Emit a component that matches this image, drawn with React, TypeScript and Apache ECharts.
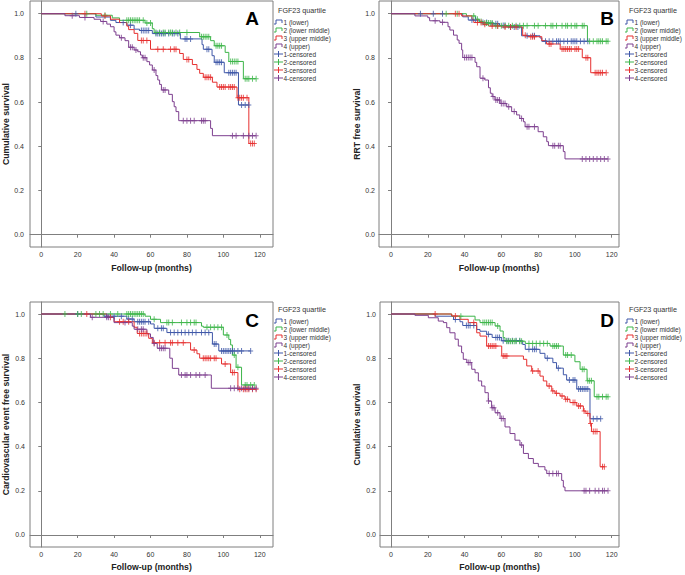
import React, { useEffect, useRef } from 'react';
import * as echarts from 'echarts';

type Step = [number, number];

// ---------- tick labels & texts ----------
const xTicks = [0, 20, 40, 60, 80, 100, 120];
const yTicks = [0, 0.2, 0.4, 0.6, 0.8, 1.0];
const groupNames = ['1 (lower)', '2 (lower middle)', '3 (upper middle)', '4 (upper)'];
const censoredNames = ['1-censored', '2-censored', '3-censored', '4-censored'];
const panelLetters = ['A', 'B', 'C', 'D'];
const yTitles = ['Cumulative survival', 'RRT free survival', 'Cardiovascular event free survival', 'Cumulative survival'];
const xTitle = 'Follow-up (months)';
const legendTitle = 'FGF23 quartile';

// ---------- Panel A : [month, survival after event] ----------
const A1_steps: Step[] = [[30, 0.985], [38, 0.97], [41, 0.96], [47, 0.948], [51, 0.93], [54, 0.924], [61, 0.91], [76.4, 0.886], [88.3, 0.86], [89, 0.839], [93.8, 0.81], [95, 0.78], [100.5, 0.733], [108.3, 0.587]];
const A1_cens = [19, 45, 49, 55, 56, 57, 58, 59, 63, 64, 65, 66, 67, 68, 70, 72, 73, 75, 79, 80, 82, 91, 92, 96, 97, 98, 99, 103, 104, 105, 106, 107, 110, 112, 114];
const A2_steps: Step[] = [[30, 0.993], [39, 0.981], [43, 0.97], [57, 0.958], [61, 0.932], [62, 0.915], [87, 0.896], [93, 0.878], [95, 0.855], [101, 0.825], [103, 0.784], [111, 0.706]];
const A2_cens = [25, 35, 47, 48, 49, 50, 51, 52, 53, 54, 56, 58, 60, 63, 65, 67, 68, 70, 71, 72, 74, 76, 80, 88, 89, 90, 91, 92, 96, 97, 98, 99, 104, 105, 106, 107, 108, 112, 113, 114, 116, 118];
const A3_steps: Step[] = [[33, 0.99], [38, 0.975], [43, 0.96], [47, 0.944], [48, 0.928], [51, 0.911], [53, 0.879], [60, 0.839], [76, 0.82], [78, 0.793], [83, 0.77], [85.5, 0.748], [87, 0.73], [89, 0.712], [94, 0.69], [96.5, 0.668], [107.5, 0.62], [114, 0.413]];
const A3_cens = [24, 35, 55, 56, 58, 64, 67, 71, 73, 74, 80, 81, 90, 91, 92, 93, 98, 99, 100, 101, 103, 104, 105, 106, 108, 109, 110, 111, 113, 115, 116, 117];
const A4_steps: Step[] = [[13, 0.991], [21, 0.983], [29, 0.975], [32.6, 0.965], [36, 0.953], [38, 0.941], [40, 0.918], [41, 0.903], [43, 0.891], [46, 0.878], [48, 0.848], [51, 0.836], [53, 0.828], [54.5, 0.813], [55.5, 0.801], [58, 0.783], [59.5, 0.768], [61, 0.745], [63, 0.72], [64, 0.7], [65, 0.68], [66, 0.655], [70, 0.635], [72, 0.602], [73, 0.579], [74, 0.557], [75.5, 0.516], [93, 0.481], [94, 0.448]];
const A4_cens = [17, 24, 34, 44, 49, 50, 52, 56, 57, 62, 67, 68, 78, 80, 82, 84, 88, 89, 90, 105, 107, 111, 114, 116, 118];

// ---------- Panel B ----------
const B1_steps: Step[] = [[39, 0.986], [42, 0.971], [48, 0.96], [53, 0.955], [59, 0.947], [63, 0.94], [71, 0.9], [81, 0.89], [82, 0.875]];
const B1_cens = [16, 23, 28, 44, 46, 50, 52, 55, 57, 58, 61, 62, 65, 67, 69, 74, 77, 78, 84, 86, 88, 90, 91, 92, 94, 96, 98, 99, 100, 101, 103, 105, 107];
const B2_steps: Step[] = [[41, 0.99], [46, 0.975], [48, 0.965], [50, 0.958], [56, 0.946], [106.8, 0.875]];
const B2_cens = [30, 36, 45, 47, 49, 51, 52, 53, 54, 55, 57, 58, 60, 62, 64, 66, 68, 70, 72, 74, 78, 80, 84, 87, 88, 90, 93, 95, 96, 98, 100, 101, 104, 105, 108, 110, 112, 113, 114, 115, 117, 118];
const B3_steps: Step[] = [[38.4, 0.99], [44, 0.975], [45, 0.96], [50, 0.952], [53, 0.944], [60, 0.94], [71.6, 0.902], [74, 0.896], [82, 0.878], [84.6, 0.863], [92, 0.84], [104, 0.801], [108.6, 0.733]];
const B3_cens = [35, 37, 47, 49, 51, 55, 58, 62, 65, 68, 73, 76, 77, 78, 86, 87, 93, 94, 95, 96, 97, 98, 100, 101, 102, 106, 107, 111, 112, 113, 114, 115, 117];
const B4_steps: Step[] = [[13, 0.99], [20, 0.982], [21, 0.968], [26.6, 0.961], [31, 0.941], [32, 0.926], [34, 0.903], [36, 0.881], [37, 0.866], [38.4, 0.836], [39, 0.802], [45.7, 0.78], [46.6, 0.76], [48.4, 0.708], [51, 0.7], [53, 0.665], [54, 0.64], [55, 0.625], [56.5, 0.61], [59.3, 0.594], [62.9, 0.579], [65.6, 0.557], [68.3, 0.542], [70, 0.526], [72, 0.511], [72.9, 0.489], [80, 0.466], [82.8, 0.443], [84.7, 0.421], [85.6, 0.403], [93.7, 0.376], [94.6, 0.343]];
const B4_cens = [24, 28, 40, 41, 42, 43, 44, 50, 55.5, 57, 58, 59, 60, 61, 62, 64, 67, 71, 74, 75, 78, 88, 89, 91, 92, 104, 106, 108, 110, 112, 114, 116, 118];

// ---------- Panel C ----------
const C1_steps: Step[] = [[34.5, 0.99], [47, 0.977], [51, 0.965], [60, 0.955], [62, 0.935], [69, 0.916], [94, 0.864], [97.5, 0.833]];
const C1_cens = [20, 36, 40, 44, 48, 50, 53, 54, 55, 56, 57, 59, 64, 66, 67, 71, 73, 75, 77, 79, 81, 83, 85, 88, 90, 92, 95, 96, 99, 100, 101, 102, 103, 104, 105, 106, 108, 110, 115];
const C2_steps: Step[] = [[57, 0.99], [60, 0.976], [65.5, 0.961], [88, 0.945], [89, 0.94], [100, 0.905], [103, 0.885], [104, 0.86], [105, 0.814], [107, 0.759], [110, 0.679]];
const C2_cens = [13, 20, 22, 30, 32, 34, 38, 42, 47, 48, 49, 50, 51, 52, 53, 54, 55, 56, 62, 69, 70, 72, 77, 80, 82, 84, 85, 91, 93, 95, 97, 99, 102, 106, 108, 112, 113, 115, 117];
const C3_steps: Step[] = [[36, 0.985], [40, 0.965], [51, 0.94], [52.7, 0.912], [59, 0.89], [61, 0.87], [82, 0.837], [85.5, 0.82], [87, 0.8], [99, 0.774], [104, 0.735], [108, 0.659]];
const C3_cens = [25, 38, 43, 45, 48, 54, 55, 56, 57, 58, 62, 65, 68, 71, 72, 75, 78, 84, 89, 90, 91, 92, 93, 95, 96, 101, 105, 106, 109, 111, 112, 113, 114, 116, 118];
const C4_steps: Step[] = [[27, 0.985], [40, 0.961], [50, 0.945], [51, 0.931], [58, 0.91], [60, 0.894], [61.5, 0.867], [63.7, 0.845], [70.6, 0.8], [72, 0.754], [75.5, 0.724], [93.4, 0.664]];
const C4_cens = [28, 36, 37, 46, 53, 55, 56, 62, 65, 66, 67, 68, 77, 79, 80, 82, 85, 87, 90, 104, 106, 108, 110, 112, 114, 116, 118];

// ---------- Panel D ----------
const D1_steps: Step[] = [[24, 0.99], [34, 0.975], [37.5, 0.965], [39, 0.948], [46.6, 0.93], [48.4, 0.922], [52, 0.908], [55, 0.894], [60, 0.879], [71.6, 0.862], [73, 0.84], [81, 0.822], [83.7, 0.8], [88, 0.78], [90, 0.755], [93.7, 0.725], [95.5, 0.701], [101, 0.661], [108.2, 0.526]];
const D1_cens = [35, 41, 42, 43, 45, 53, 57, 58, 59, 61, 63, 64, 66, 68, 70, 75, 77, 78, 79, 85, 91, 97, 99, 100, 102, 103, 104, 105, 106, 107, 110, 112, 114];
const D2_steps: Step[] = [[33, 0.99], [45.7, 0.973], [48.4, 0.961], [56.6, 0.946], [59.3, 0.923], [61, 0.893], [62, 0.877], [73, 0.867], [86.5, 0.855], [93.7, 0.814], [100, 0.784], [102.8, 0.75], [106.6, 0.698], [110.5, 0.626]];
const D2_cens = [38, 50, 51, 52, 53, 54, 55, 58, 63, 64, 65, 66, 67, 68, 70, 71, 75, 77, 79, 81, 83, 85, 88, 89, 90, 91, 95, 96, 98, 104, 105, 107, 108, 109, 112, 113, 115, 117, 118];
const D3_steps: Step[] = [[33, 0.991], [37.5, 0.976], [42, 0.961], [46.6, 0.915], [48.4, 0.9], [52, 0.855], [60.2, 0.81], [72, 0.795], [73.8, 0.765], [76.5, 0.742], [81, 0.719], [82.8, 0.697], [84.7, 0.674], [87.4, 0.652], [89.2, 0.641], [91.9, 0.629], [94.6, 0.614], [97.3, 0.599], [101, 0.584], [104.6, 0.561], [106, 0.55], [108.2, 0.505], [109, 0.468], [113.7, 0.309]];
const D3_cens = [24, 35, 45, 53, 54, 55, 56, 57, 61, 62, 63, 77, 80, 86, 88, 90, 93, 95, 96, 99, 100, 102, 103, 105, 107, 108.5, 110, 111, 112, 115, 116];
const D4_steps: Step[] = [[13, 0.994], [20.3, 0.983], [25.7, 0.968], [28.5, 0.961], [30.3, 0.938], [32, 0.915], [34.8, 0.886], [36.6, 0.855], [38.4, 0.825], [39.3, 0.795], [41.2, 0.78], [43.9, 0.75], [45.7, 0.734], [47.5, 0.697], [49.3, 0.674], [51.1, 0.644], [52.9, 0.606], [54.7, 0.576], [56.6, 0.553], [59.3, 0.527], [62, 0.489], [64.7, 0.459], [67.4, 0.429], [70.1, 0.407], [72, 0.369], [74.7, 0.346], [77.4, 0.324], [80.1, 0.309], [83.7, 0.294], [84.7, 0.278], [92.8, 0.247], [93.7, 0.217], [94.6, 0.2]];
const D4_cens = [42, 43, 53, 55, 56, 58, 60, 61, 71, 86, 88, 90, 91, 105, 106, 108, 111, 113, 115, 116, 118];

const panelSteps: Step[][][] = [
  [A1_steps, A2_steps, A3_steps, A4_steps],
  [B1_steps, B2_steps, B3_steps, B4_steps],
  [C1_steps, C2_steps, C3_steps, C4_steps],
  [D1_steps, D2_steps, D3_steps, D4_steps],
];
const panelCens: number[][][] = [
  [A1_cens, A2_cens, A3_cens, A4_cens],
  [B1_cens, B2_cens, B3_cens, B4_cens],
  [C1_cens, C2_cens, C3_cens, C4_cens],
  [D1_cens, D2_cens, D3_cens, D4_cens],
];

// ---------- styles & layout ----------
const colors = ['#3f57a8', '#3db54a', '#e62f2f', '#7d3f8f'];
const FONT = '"Liberation Sans", Arial, sans-serif';
const frameColor = '#7f7f7f';
const textColor = '#333333';

const layouts = [
  { grid: { left: 29, top: 1, width: 244, height: 246 }, x: [-6.18, 127.27], y: [-0.0557, 1.0575], yMargin: 6, yGap: 20, xGap: 16, letter: [252, 18], legX: 274, legY: 10 },
  { grid: { left: 379, top: 1, width: 240, height: 246 }, x: [-6.53, 123.97], y: [-0.0557, 1.0575], yMargin: 4, yGap: 18, xGap: 16, letter: [607, 18], legX: 625, legY: 10 },
  { grid: { left: 29, top: 302, width: 244, height: 245 }, x: [-6.18, 127.27], y: [-0.0543, 1.0543], yMargin: 5, yGap: 20, xGap: 15, letter: [252, 320], legX: 274, legY: 309 },
  { grid: { left: 380, top: 302, width: 239, height: 245 }, x: [-5.98, 123.97], y: [-0.0543, 1.0543], yMargin: 4, yGap: 19, xGap: 15, letter: [607, 320], legX: 625, legY: 309 },
];

const PLUS = 'path://M4,0H6V5H10V7H6V12H4V7H0V5H4Z';

function survAt(steps: Step[], t: number) {
  let s = 1;
  for (const [ti, si] of steps) if (ti <= t) s = si;
  return s;
}

function curveData(steps: Step[], cens: number[]) {
  const last = steps[steps.length - 1];
  const end = Math.max(last[0], ...cens);
  return [[0, 1], ...steps, [end, last[1]]];
}

function buildOption() {
  const grids: any[] = [];
  const xAxes: any[] = [];
  const yAxes: any[] = [];
  const series: any[] = [];
  const graphics: any[] = [];

  layouts.forEach((L, p) => {
    grids.push({ ...L.grid, show: true, borderColor: frameColor, borderWidth: 1, backgroundColor: 'transparent', containLabel: false });
    xAxes.push({
      type: 'value', gridIndex: p, min: L.x[0], max: L.x[1],
      name: xTitle, nameLocation: 'middle', nameGap: L.xGap,
      nameTextStyle: { fontFamily: FONT, fontWeight: 'bold', fontSize: 8.7, color: '#222' },
      axisLine: { show: true, lineStyle: { color: frameColor, width: 1 } },
      axisTick: { show: true, length: 3, inside: false, customValues: xTicks, lineStyle: { color: frameColor } },
      axisLabel: { show: true, customValues: xTicks, margin: 4, fontFamily: FONT, fontSize: 7, color: textColor, formatter: (v: number) => String(Math.round(v)) },
      splitLine: { show: false },
    });
    yAxes.push({
      type: 'value', gridIndex: p, min: L.y[0], max: L.y[1],
      name: yTitles[p], nameLocation: 'middle', nameGap: L.yGap,
      nameTextStyle: { fontFamily: FONT, fontWeight: 'bold', fontSize: 8.7, color: '#222' },
      axisLine: { show: true, lineStyle: { color: frameColor, width: 1 } },
      axisTick: { show: true, length: 3, inside: false, customValues: yTicks, lineStyle: { color: frameColor } },
      axisLabel: { show: true, customValues: yTicks, margin: L.yMargin, fontFamily: FONT, fontSize: 7, color: textColor, formatter: (v: number) => v.toFixed(1) },
      splitLine: { show: false },
    });

    for (let g = 0; g < 4; g++) {
      const steps = panelSteps[p][g];
      const cens = panelCens[p][g];
      series.push({
        type: 'line', name: groupNames[g], xAxisIndex: p, yAxisIndex: p, step: 'end',
        data: curveData(steps, cens), showSymbol: false, symbol: 'none', silent: true,
        lineStyle: { color: colors[g], width: 1 }, itemStyle: { color: colors[g] }, z: 2 + g,
      });
      series.push({
        type: 'scatter', name: censoredNames[g], xAxisIndex: p, yAxisIndex: p,
        data: cens.map((t) => [t, survAt(steps, t)]), symbol: PLUS, symbolSize: [5, 6], silent: true,
        itemStyle: { color: colors[g] }, z: 6 + g,
      });
    }

    // panel letter
    graphics.push({
      type: 'text', x: L.letter[0], y: L.letter[1], silent: true,
      style: { text: panelLetters[p], font: `bold 19px ${FONT}`, fill: '#000', align: 'center', verticalAlign: 'middle' },
    });
    // legend
    graphics.push({
      type: 'text', x: L.legX + 4, y: L.legY, silent: true,
      style: { text: legendTitle, font: `7.2px ${FONT}`, fill: textColor, align: 'left', verticalAlign: 'middle' },
    });
    for (let i = 0; i < 8; i++) {
      const cy = L.legY + 12 + i * 8;
      const g = i % 4;
      const x0 = L.legX;
      if (i < 4) {
        graphics.push({
          type: 'polyline', silent: true,
          shape: { points: [[x0, cy + 2], [x0 + 2, cy + 2], [x0 + 2, cy - 2], [x0 + 8, cy - 2], [x0 + 8, cy + 1]] },
          style: { stroke: colors[g], lineWidth: 1, fill: 'none' },
        });
      } else {
        graphics.push({ type: 'line', silent: true, shape: { x1: x0, y1: cy, x2: x0 + 9, y2: cy }, style: { stroke: colors[g], lineWidth: 1 } });
        graphics.push({ type: 'line', silent: true, shape: { x1: x0 + 4.5, y1: cy - 3, x2: x0 + 4.5, y2: cy + 3 }, style: { stroke: colors[g], lineWidth: 1 } });
      }
      graphics.push({
        type: 'text', x: x0 + 9.5, y: cy, silent: true,
        style: { text: i < 4 ? groupNames[g] : censoredNames[g], font: `6.5px ${FONT}`, fill: textColor, align: 'left', verticalAlign: 'middle' },
      });
    }
  });

  return {
    animation: false,
    backgroundColor: '#ffffff',
    textStyle: { fontFamily: FONT },
    grid: grids,
    xAxis: xAxes,
    yAxis: yAxes,
    series,
    graphic: graphics,
    tooltip: { show: false },
  };
}

export default function App() {
  const ref = useRef<HTMLDivElement>(null);
  useEffect(() => {
    document.body.style.margin = '0';
    if (!ref.current) return;
    const chart = echarts.init(ref.current, undefined, { renderer: 'svg' });
    chart.setOption(buildOption() as any);
    return () => chart.dispose();
  }, []);
  return (
    <div style={{ position: 'fixed', left: 0, top: 0, width: 685, height: 575, background: '#fff', overflow: 'hidden' }}>
      <div ref={ref} style={{ width: 685, height: 575 }} />
    </div>
  );
}
